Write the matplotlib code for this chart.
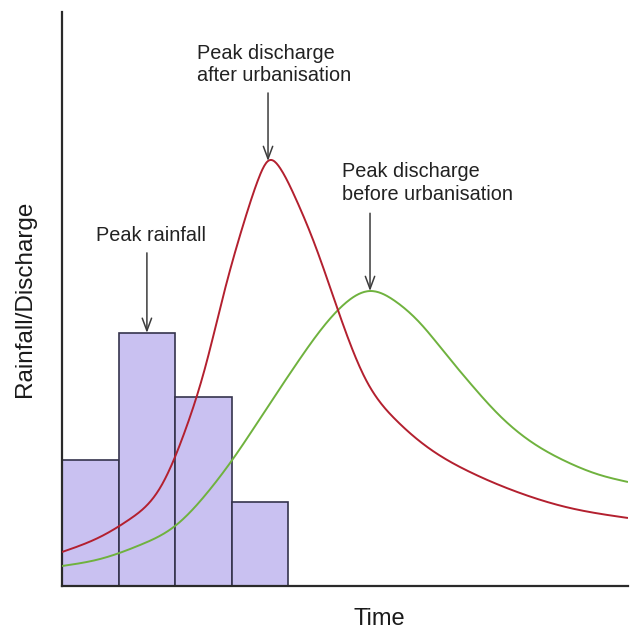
import numpy as np
import matplotlib
matplotlib.use("Agg")
import matplotlib.pyplot as plt

plt.rcParams['font.family'] = ['Liberation Sans', 'DejaVu Sans']

# Rainfall bars (time interval start, height)
bar_left = [0, 1, 2, 3]
bar_height = [2.20, 4.41, 3.29, 1.46]

# Discharge after urbanisation (red)
after_t = [0.000, 0.671, 1.201, 1.731, 2.173, 2.527, 2.880, 3.233, 3.463, 3.640,
           3.852, 4.117, 4.470, 4.912, 5.353, 5.883, 6.502, 7.208, 8.092, 8.975,
           10.000]
after_q = [0.592, 0.854, 1.167, 1.707, 2.700, 3.798, 5.174, 6.394, 7.073, 7.404,
           7.282, 6.777, 5.941, 4.704, 3.624, 2.909, 2.387, 1.986, 1.620, 1.359,
           1.185]

# Discharge before urbanisation (green)
before_t = [0.000, 0.671, 1.378, 1.996, 2.562, 3.057, 3.587, 4.117, 4.558, 5.000,
            5.442, 5.883, 6.325, 6.767, 7.208, 7.739, 8.269, 8.887, 9.505, 10.000]
before_q = [0.348, 0.470, 0.714, 1.045, 1.620, 2.265, 3.049, 3.833, 4.443, 4.922,
            5.139, 4.965, 4.582, 4.059, 3.537, 2.962, 2.526, 2.178, 1.934, 1.812]

labels = {
    'rain': "Peak rainfall",
    'after': "Peak discharge\nafter urbanisation",
    'before': "Peak discharge\nbefore urbanisation",
}


def spline_render(x, y, n=600):
    """Draw a natural cubic spline through the read points (rendering only)."""
    x = np.asarray(x, float)
    y = np.asarray(y, float)
    m = len(x)
    h = np.diff(x)
    A = np.zeros((m, m))
    r = np.zeros(m)
    A[0, 0] = A[-1, -1] = 1.0
    for i in range(1, m - 1):
        A[i, i - 1] = h[i - 1]
        A[i, i] = 2 * (h[i - 1] + h[i])
        A[i, i + 1] = h[i]
        r[i] = 6 * ((y[i + 1] - y[i]) / h[i] - (y[i] - y[i - 1]) / h[i - 1])
    M = np.linalg.solve(A, r)
    xs = np.linspace(x[0], x[-1], n)
    k = np.clip(np.searchsorted(x, xs) - 1, 0, m - 2)
    x0, x1 = x[k], x[k + 1]
    hk = x1 - x0
    ys = (M[k] * (x1 - xs) ** 3 / (6 * hk) + M[k + 1] * (xs - x0) ** 3 / (6 * hk)
          + (y[k] / hk - M[k] * hk / 6) * (x1 - xs)
          + (y[k + 1] / hk - M[k + 1] * hk / 6) * (xs - x0))
    return xs, ys


fig = plt.figure(figsize=(6.30, 6.32), dpi=100)
ax = fig.add_axes([62 / 630, 46 / 632, 566 / 630, 574 / 632])

ax.bar(bar_left, bar_height, width=1.0, align='edge', color='#c9c1f1',
       edgecolor='#35344d', linewidth=1.2, zorder=1)

rx, ry = spline_render(after_t, after_q)
gx, gy = spline_render(before_t, before_q)
ax.plot(gx, gy, color='#6fb23e', lw=1.4, zorder=3, solid_capstyle='butt')
ax.plot(rx, ry, color='#b3202f', lw=1.4, zorder=4, solid_capstyle='butt')

ax.set_xlim(0, 10)
ax.set_ylim(0, 10)
ax.set_xticks([])
ax.set_yticks([])
for s in ['top', 'right']:
    ax.spines[s].set_visible(False)
for s in ['left', 'bottom']:
    ax.spines[s].set_linewidth(1.6)
    ax.spines[s].set_color('#2a2a2a')

ax.set_xlabel('Time', fontsize=17, color='#1a1a1a')
ax.xaxis.set_label_coords(0.56, -0.038)
ax.set_ylabel('Rainfall/Discharge', fontsize=17.5, color='#1a1a1a')
ax.yaxis.set_label_coords(-0.046, 0.5)

arrow_kw = dict(arrowstyle='->,head_length=0.75,head_width=0.28', color='#3c3c3c',
                lw=1.1, shrinkA=0, shrinkB=0, mutation_scale=12)
text_kw = dict(fontsize=14.3, color='#222222', textcoords='offset points',
               linespacing=1.25)

# Peak rainfall
i_r = int(np.argmax(bar_height))
pr = (bar_left[i_r] + 0.5, bar_height[i_r])
ax.annotate('', xy=pr, xytext=(0, 57.6), textcoords='offset points',
            arrowprops=arrow_kw, zorder=5)
ax.annotate(labels['rain'], xy=pr, xytext=(3, 63), ha='center', va='bottom', **text_kw)

# Peak after urbanisation
i_a = int(np.argmax(after_q))
pa = (after_t[i_a], after_q[i_a])
ax.annotate('', xy=pa, xytext=(0, 49), textcoords='offset points',
            arrowprops=arrow_kw, zorder=5)
ax.annotate(labels['after'], xy=pa, xytext=(-51, 54.5), ha='left', va='bottom',
            multialignment='left', **text_kw)

# Peak before urbanisation
i_b = int(np.argmax(before_q))
pb = (before_t[i_b], before_q[i_b])
ax.annotate('', xy=pb, xytext=(0, 56), textcoords='offset points',
            arrowprops=arrow_kw, zorder=5)
ax.annotate(labels['before'], xy=pb, xytext=(-20, 63), ha='left', va='bottom',
            multialignment='left', **text_kw)

fig.savefig('out.png', dpi=100)
